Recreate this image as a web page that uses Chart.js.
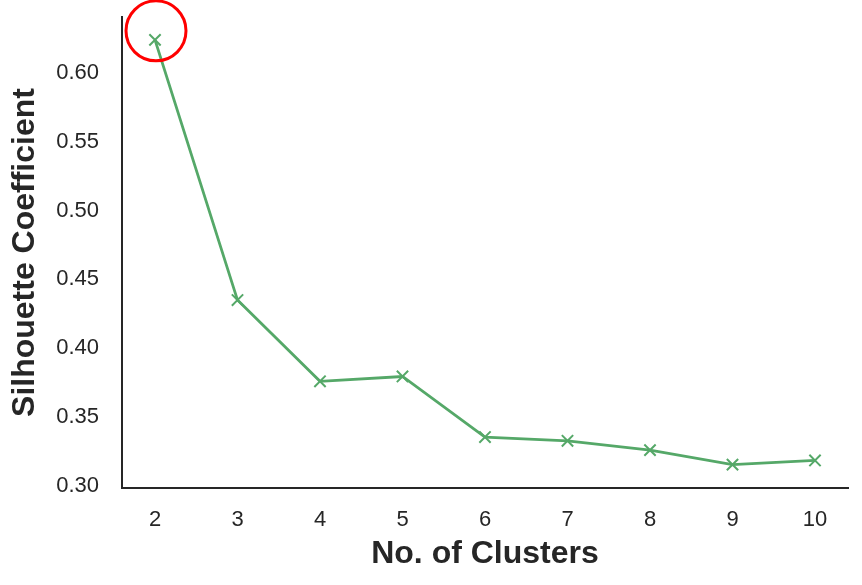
<!DOCTYPE html>
<html>
<head>
<meta charset="utf-8">
<script src="https://cdn.jsdelivr.net/npm/chart.js@4"></script>
<style>
  html, body { margin: 0; padding: 0; background: #ffffff; }
  #wrap { width: 862px; height: 585px; }
</style>
</head>
<body>
<div id="wrap"><canvas id="c" width="862" height="585"></canvas></div>
<script>
const clusters = [2, 3, 4, 5, 6, 7, 8, 9, 10];
const silhouette = [0.624, 0.435, 0.376, 0.3795, 0.3355, 0.3328, 0.326, 0.3155, 0.3185];
const yTicks = [0.30, 0.35, 0.40, 0.45, 0.50, 0.55, 0.60];
const highlightIndex = 0;

const green = '#55a868';
const textColor = '#262626';

const circlePlugin = {
  id: 'highlightCircle',
  afterDraw(chart) {
    const xs = chart.scales.x, ys = chart.scales.y;
    const cx = xs.getPixelForValue(clusters[highlightIndex]);
    const cy = ys.getPixelForValue(silhouette[highlightIndex]);
    const ctx = chart.ctx;
    ctx.save();
    ctx.beginPath();
    ctx.arc(cx + 1, cy - 9, 30, 0, Math.PI * 2);
    ctx.strokeStyle = '#ff0000';
    ctx.lineWidth = 3;
    ctx.stroke();
    ctx.restore();
  }
};

new Chart(document.getElementById('c'), {
  type: 'line',
  data: {
    datasets: [{
      data: clusters.map((c, i) => ({ x: c, y: silhouette[i] })),
      borderColor: green,
      backgroundColor: green,
      borderWidth: 2.8,
      pointStyle: 'crossRot',
      pointRadius: 8,
      pointHoverRadius: 8,
      pointBorderWidth: 2,
      pointBorderColor: green,
      tension: 0,
      fill: false
    }]
  },
  options: {
    responsive: false,
    animation: false,
    devicePixelRatio: 1,
    layout: { padding: { top: 17, right: 14, left: 0, bottom: 0 } },
    plugins: { legend: { display: false }, tooltip: { enabled: false } },
    scales: {
      x: {
        type: 'linear',
        min: 1.6,
        max: 10.4,
        afterBuildTicks: s => { s.ticks = clusters.map(v => ({ value: v })); },
        afterFit: s => { s.height = 97; s.paddingLeft = 0; s.paddingRight = 0; },
        grid: { display: false, drawTicks: false },
        border: { display: true, color: textColor, width: 2 },
        ticks: {
          padding: 19,
          color: textColor,
          font: { family: 'Liberation Sans, Arial, sans-serif', size: 22 },
          callback: v => String(v)
        },
        title: {
          display: true,
          text: 'No. of Clusters',
          color: textColor,
          font: { family: 'Liberation Sans, Arial, sans-serif', size: 32, weight: 'bold' },
          padding: { top: 0, bottom: 12 }
        }
      },
      y: {
        type: 'linear',
        min: 0.2985,
        max: 0.6406,
        afterBuildTicks: s => { s.ticks = yTicks.map(v => ({ value: v })); },
        afterFit: s => { s.width = 122; s.paddingTop = 0; s.paddingBottom = 0; },
        grid: { display: false, drawTicks: false },
        border: { display: true, color: textColor, width: 2 },
        ticks: {
          padding: 23,
          color: textColor,
          font: { family: 'Liberation Sans, Arial, sans-serif', size: 22 },
          callback: v => v.toFixed(2)
        },
        title: {
          display: true,
          text: 'Silhouette Coefficient',
          color: textColor,
          font: { family: 'Liberation Sans, Arial, sans-serif', size: 32, weight: 'bold' },
          padding: { top: 6, bottom: 0 }
        }
      }
    }
  },
  plugins: [circlePlugin]
});
</script>
</body>
</html>
